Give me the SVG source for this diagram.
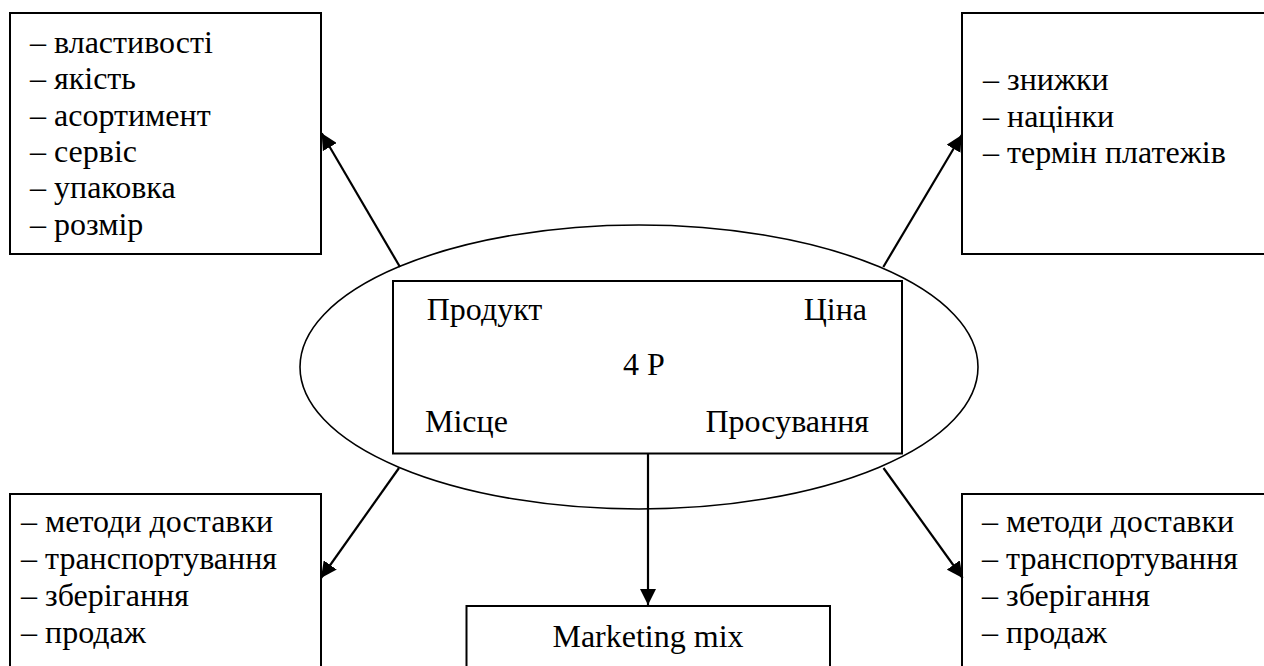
<svg xmlns="http://www.w3.org/2000/svg" width="1264" height="666" viewBox="0 0 1264 666">
<style>
.box{fill:#fff;stroke:#000;stroke-width:2}
.ell{fill:#fff;stroke:#000;stroke-width:1.6}
.t{font-family:'Liberation Serif',serif;font-size:32px;fill:#000}
.c{stroke:#000;stroke-width:2.2;fill:none}
</style>
<defs>
<marker id="ah" markerUnits="userSpaceOnUse" markerWidth="16" markerHeight="16" viewBox="0 0 16 16" refX="16" refY="8" orient="auto">
<path d="M0,0 L16,8 L0,16 Z" fill="#000"/>
</marker>
</defs>
<rect width="1264" height="666" fill="#fff"/>
<g id="product-box">
<rect class="box" x="10" y="13" width="311" height="241"/>
<text class="t" x="30" y="53">– властивості</text>
<text class="t" x="30" y="89.3">– якість</text>
<text class="t" x="30" y="125.6">– асортимент</text>
<text class="t" x="30" y="161.9">– сервіс</text>
<text class="t" x="30" y="198.2">– упаковка</text>
<text class="t" x="30" y="234.5">– розмір</text>
</g>
<g id="price-box">
<rect class="box" x="962" y="13" width="310" height="241"/>
<text class="t" x="983" y="90">– знижки</text>
<text class="t" x="983" y="126.5">– націнки</text>
<text class="t" x="983" y="163">– термін платежів</text>
</g>
<g id="place-box">
<rect class="box" x="10" y="494" width="311" height="190"/>
<text class="t" x="21" y="531.7">– методи доставки</text>
<text class="t" x="21" y="568.9">– транспортування</text>
<text class="t" x="21" y="606.1">– зберігання</text>
<text class="t" x="21" y="643.3">– продаж</text>
</g>
<g id="promotion-box">
<rect class="box" x="962" y="494" width="310" height="190"/>
<text class="t" x="982" y="531.7">– методи доставки</text>
<text class="t" x="982" y="568.9">– транспортування</text>
<text class="t" x="982" y="606.1">– зберігання</text>
<text class="t" x="982" y="643.3">– продаж</text>
</g>
<g id="marketing-mix">
<rect class="box" x="466.5" y="606" width="363.5" height="80"/>
<text class="t" x="648" y="647" text-anchor="middle">Marketing mix</text>
</g>
<g id="four-p">
<ellipse class="ell" cx="639" cy="367" rx="339" ry="142"/>
<rect class="box" x="393" y="281" width="509" height="172.5"/>
<text class="t" x="426.7" y="320">Продукт</text>
<text class="t" x="867" y="320" text-anchor="end">Ціна</text>
<text class="t" x="644" y="375" text-anchor="middle">4 P</text>
<text class="t" x="425" y="431.7">Місце</text>
<text class="t" x="869" y="431.7" text-anchor="end">Просування</text>
</g>
<g id="connectors">
<line class="c" x1="400" y1="267" x2="321.7" y2="133.3" marker-end="url(#ah)"/>
<line class="c" x1="883.3" y1="267" x2="961.7" y2="135" marker-end="url(#ah)"/>
<line class="c" x1="399" y1="468" x2="321" y2="578" marker-end="url(#ah)"/>
<line class="c" x1="883.5" y1="468" x2="962.6" y2="578" marker-end="url(#ah)"/>
<line class="c" x1="648" y1="453.5" x2="648" y2="605" marker-end="url(#ah)"/>
</g>
</svg>
